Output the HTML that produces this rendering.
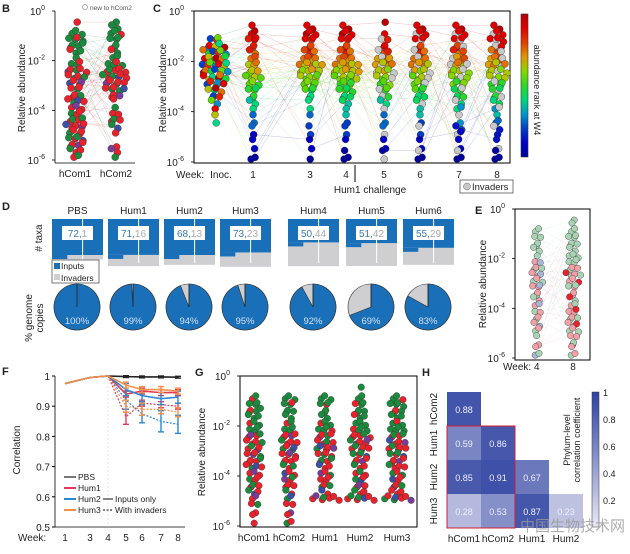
<!DOCTYPE html>
<html><head><meta charset="utf-8">
<style>
body{margin:0;background:#fff;}
svg{display:block;font-family:"Liberation Sans","Noto Sans CJK SC",sans-serif;}
</style></head>
<body>
<svg id="fig" width="630" height="554" viewBox="0 0 630 554" xmlns="http://www.w3.org/2000/svg">
<rect width="630" height="554" fill="#fff"/>
</svg>
<script>
// ---------------- DATA ----------------
// Swarm histograms: dot counts per 0.25-log10 bin from 10^0 down to 10^-6 (24 bins)
const bHcom1 = [0,1,0,3,4,4,3,1,3,5,4,4,3,3,4,3,3,4,5,4,4,4,3,2];
const bHcom2 = [0,1,2,3,3,2,2,2,4,5,6,5,5,3,1,1,2,3,2,1,0,1,2,1];
const cCols = [
 [0,0,0,0,3,5,6,6,7,7,6,5,4,3,2,1,1,1,0,0,0,0,0,0],
 [0,0,1,2,3,2,2,2,3,3,4,3,3,2,2,1,1,1,1,1,1,1,0,2],
 [0,0,2,3,3,2,3,4,6,6,5,4,3,2,1,1,1,0,1,1,1,1,0,1],
 [0,0,2,3,3,2,3,4,6,7,6,4,4,3,2,1,1,1,1,1,1,0,1,2],
 [0,1,0,1,2,2,3,4,5,5,4,3,3,3,2,1,1,1,1,1,1,1,1,1],
 [0,0,2,3,3,2,3,4,5,5,4,4,3,3,2,1,1,1,1,1,1,1,1,2],
 [0,0,2,3,3,3,3,4,5,5,4,4,3,3,2,2,1,1,2,2,1,1,1,2],
 [0,0,2,3,4,3,3,4,5,5,4,4,3,3,2,2,1,2,2,1,1,1,1,2]
];
const cWeeks = ["Inoc.","1","3","4","5","6","7","8"];
const eWeek4 = [0,0,0,2,2,2,2,1,2,3,3,3,3,2,2,2,2,2,2,2,1,1,1,2];
const eWeek8 = [0,1,1,2,3,3,2,3,3,3,4,3,3,2,2,2,3,3,3,3,2,2,1,2];
const gCols = [
 [0,0,0,2,3,4,3,3,3,4,4,4,4,4,4,3,3,3,3,2,2,1,1,1],
 [0,0,0,3,3,3,2,2,3,4,4,4,4,4,3,3,3,3,2,2,2,1,1,2],
 [0,0,0,3,3,2,2,3,4,4,4,5,4,4,3,3,3,3,2,7,0,0,0,0],
 [0,1,0,2,3,3,3,3,4,5,5,5,4,4,3,3,3,3,3,7,0,0,0,0],
 [0,0,0,3,4,3,3,3,4,4,4,5,4,4,4,3,3,3,3,7,0,0,0,0]
];
const gLabels = ["hCom1","hCom2","Hum1","Hum2","Hum3"];
const dGroups = ["PBS","Hum1","Hum2","Hum3","Hum4","Hum5","Hum6"];
const dInputs = [72,71,68,73,50,51,55];
const dInvaders = [1,16,13,23,44,42,29];
const dPct = [100,99,94,95,92,69,83];
const fWeeks = [1,3,4,5,6,7,8];
const fPBS = [0.975,0.995,1,0.998,0.997,0.997,0.996];
const fHum1 = [0.975,0.995,1,0.94,0.95,0.945,0.945];
const fHum2 = [0.975,0.995,1,0.955,0.935,0.925,0.93];
const fHum3 = [0.975,0.995,1,0.97,0.955,0.955,0.95];
const fHum1d = [null,null,1,0.865,0.91,0.905,0.9];
const fHum2d = [null,null,1,0.92,0.875,0.85,0.84];
const fHum3d = [null,null,1,0.9,0.89,0.89,0.88];
const hLabels = ["hCom1","hCom2","Hum1","Hum2","Hum3"];
const hVals = [[0.88],[0.59,0.86],[0.85,0.91,0.67],[0.28,0.53,0.87,0.23]];

// ---------------- HELPERS ----------------
const NS="http://www.w3.org/2000/svg";
const svg=document.getElementById('fig');
function mk(tag,attrs,parent,text){const e=document.createElementNS(NS,tag);for(const k in attrs)e.setAttribute(k,attrs[k]);if(text!==undefined)e.textContent=text;(parent||svg).appendChild(e);return e;}
function txt(x,y,s,size,name,opts){const o=Object.assign({x:x,y:y,'font-size':size,fill:'#222'},opts||{});const t=mk('text',o,svg,s);return t;}
function logScale(top,bot){return v=>top+(-v)/6*(bot-top);}
function jet(t){t=Math.max(0,Math.min(1,t));const r=Math.max(0,Math.min(1,1.5-Math.abs(4*t-3.3))),g=Math.max(0,Math.min(1,1.5-Math.abs(4*t-2))),b=Math.max(0,Math.min(1,1.5-Math.abs(4*t-0.7)));return `rgb(${Math.round(r*225)},${Math.round(g*215)},${Math.round(b*200)})`;}
const jit=[0,0.6,-0.5,0.3,-0.2,0.8,-0.7,0.1];
function swarm(counts,cx,ys,r,colorFn,name,step){
 const g=mk('g',{});  
 const pts=[];let idx=0;
 counts.forEach((n,bi)=>{const lv=-(bi+0.5)*0.25;
  for(let k=0;k<n;k++){const off=(k-(n-1)/2)*step+jit[(bi+k)%8]*2;const yy=ys(lv)+jit[(k*3+bi)%8]*3;
   const col=colorFn(lv,idx);
   const c=mk('circle',{cx:cx+off,cy:yy,r:r,fill:col,stroke:'#333','stroke-width':0.4},g);
   
   
   pts.push([cx+off,yy,col]);idx++;}});
 return pts;}
function links(a,b,op){const lg=mk('g',{});const n=Math.min(a.length,b.length);for(let i=0;i<n;i++){const j=(i*7)%b.length;mk('line',{x1:a[i][0],y1:a[i][1],x2:b[j][0],y2:b[j][1],stroke:a[i][2],'stroke-width':0.5,opacity:op},lg);}svg.insertBefore(lg,svg.children[1]);}
function yLogAxis(x,top,bot,name){const ys=logScale(top,bot);[0,-2,-4,-6].forEach(p=>{mk('line',{x1:x-3,x2:x,y1:ys(p),y2:ys(p),stroke:'#000','stroke-width':0.8});const t=txt(x-10,ys(p)+4,'10',10,name+'-tick',{'text-anchor':'end'});mk('tspan',{dy:-5,'font-size':7},t,String(p));});return ys;}
const phylum=['#e8212b','#e8212b','#e8212b','#1a8a3c','#e8212b','#1a8a3c','#e8212b','#e8212b','#3a50a8','#1a8a3c','#e8212b','#7a3c9a'];
function phylumColor(lv,i){if(lv>-2.2&&i%3!==0)return '#1a8a3c';return phylum[(i*5)%phylum.length];}

// ---------------- PANEL B ----------------
txt(2,12,'B',11,'panel-b-label',{'font-weight':'bold'});
mk('circle',{cx:85,cy:7,r:2.5,fill:'none',stroke:'#999','stroke-width':0.8});
txt(90,10,'new to hCom2',6.5,'legend-new-to-hcom2',{fill:'#555'});
const ysB=yLogAxis(55,11,160,'b-y');
mk('line',{x1:55,x2:55,y1:11,y2:163,stroke:'#000','stroke-width':0.8});
mk('line',{x1:55,x2:135,y1:163,y2:163,stroke:'#000','stroke-width':0.8});
txt(25,88,'Relative abundance',10,'b-y-axis-title',{'text-anchor':'middle',transform:'rotate(-90 25 88)'});
const pb1=swarm(bHcom1,76,ysB,3.5,phylumColor,'b-hcom1-swarm',4.5);
const pb2=swarm(bHcom2,115,ysB,3.5,(lv,i)=>phylumColor(lv,i+1),'b-hcom2-swarm',4.5);
links(pb1,pb2,0.25);
txt(75,177,'hCom1',10,'b-x-label-hcom1',{'text-anchor':'middle'});
txt(116,177,'hCom2',10,'b-x-label-hcom2',{'text-anchor':'middle'});

// ---------------- PANEL C ----------------
txt(153,12,'C',11,'panel-c-label',{'font-weight':'bold'});
mk('rect',{x:194,y:11,width:316,height:152,fill:'none',stroke:'#000','stroke-width':1});
const ysC=yLogAxis(194,11,162,'c-y');
txt(166,88,'Relative abundance',10,'c-y-axis-title',{'text-anchor':'middle',transform:'rotate(-90 166 88)'});
const cX=[215,253,310,346,384,420,459,497];
let prev=null;
cCols.forEach((col,ci)=>{
 const p=swarm(col,cX[ci],ysC,3.5,(lv,i)=>{ if(ci>=4&&(i%4===2))return '#c8c8c8'; if(ci===0)return jet(0.2+((i*7)%10)/11); return jet(1+(lv+0.6)/5+((i%3)-1)*0.05);},'c-week-'+cWeeks[ci]+'-swarm',4.2);
 if(prev)links(prev,p,0.25);prev=p;
 txt(cX[ci]+(ci===0?6:0),178,cWeeks[ci],10,'c-x-label-'+cWeeks[ci],{'text-anchor':'middle'});
});
txt(176,178,'Week:',10,'c-week-label');
mk('line',{x1:355,x2:355,y1:165,y2:182,stroke:'#000','stroke-width':1});
txt(370,193,'Hum1 challenge',10,'hum1-challenge-label',{'text-anchor':'middle'});
const inv=mk('rect',{x:460,y:180,width:53,height:13,fill:'#fff',stroke:'#555','stroke-width':0.8});
mk('circle',{cx:467,cy:186.5,r:3.5,fill:'#c8c8c8',stroke:'#444','stroke-width':0.4});
txt(472,190,'Invaders',9.5,'invaders-legend-text');
const defs=mk('defs',{});
const lg=mk('linearGradient',{id:'jetg',x1:0,y1:1,x2:0,y2:0},defs);
for(let i=0;i<=10;i++)mk('stop',{offset:i/10,'stop-color':jet(i/10)},lg);
const cb=mk('rect',{x:521,y:14,width:7,height:143,fill:'url(#jetg)',stroke:'#333','stroke-width':0.6});
txt(534,90,'abundance rank at W4',9,'c-colorbar-title',{'text-anchor':'middle',transform:'rotate(90 534 90)'});

// ---------------- PANEL D ----------------
txt(2,210,'D',11,'panel-d-label',{'font-weight':'bold'});
const dX=[52,108,164,220,288,346,403];
txt(42,238,'# taxa',10,'d-taxa-axis-title',{'text-anchor':'middle',transform:'rotate(-90 42 238)'});
txt(32,318,'% genome',10,'d-pct-axis-title',{'text-anchor':'middle',transform:'rotate(-90 32 318)'});
txt(43,318,'copies',10,'d-pct-axis-title2',{'text-anchor':'middle',transform:'rotate(-90 43 318)'});
dGroups.forEach((g,i)=>{
 const x=dX[i],w=51,top=219;
 txt(x+w/2,214,g,10,'d-group-label-'+g,{'text-anchor':'middle'});
 const frac=dInputs[i]/(dInputs[i]+dInvaders[i]);
 const blueH=Math.min(36,44*frac);const grayH=dInvaders[i]*0.45+4;
 const gr=mk('rect',{x:x,y:top+blueH,width:w,height:grayH,fill:'#cfcfd1'});
 const bl=mk('rect',{x:x,y:top,width:w,height:blueH,fill:'#1a70b8'});
 mk('rect',{x:x,y:top+blueH,width:w*0.3,height:4,fill:'#1a70b8'});
 mk('line',{x1:x+w*0.6,x2:x+w*0.6,y1:top,y2:top+44,stroke:'#fff','stroke-width':1});
 mk('rect',{x:x+10,y:top+7,width:31,height:14,fill:'#fff'});
 const t=txt(x+25.5,top+18,'',10,'d-count-label-'+g,{'text-anchor':'middle'});
 mk('tspan',{fill:'#3a78b8'},t,dInputs[i]+',');mk('tspan',{fill:'#aaa'},t,String(dInvaders[i]));
 const cx=x+25,cy=307,r=23;
 const pie=mk('circle',{cx:cx,cy:cy,r:r,fill:'#cfcfd1',stroke:'#333','stroke-width':0.6});
 const a=dPct[i]/100*2*Math.PI;
 if(dPct[i]>=100){mk('circle',{cx:cx,cy:cy,r:r,fill:'#1a70b8',stroke:'#333','stroke-width':0.6});}
 else{const ex=cx+r*Math.sin(a),ey=cy-r*Math.cos(a);mk('path',{d:`M${cx},${cy} L${cx},${cy-r} A${r},${r} 0 ${a>Math.PI?1:0} 1 ${ex},${ey} Z`,fill:'#1a70b8',stroke:'#333','stroke-width':0.6});}
 mk('line',{x1:cx,y1:cy,x2:cx,y2:cy-r,stroke:'#222','stroke-width':0.8});
 txt(cx,cy+17,dPct[i]+'%',9.5,'d-pct-label-'+g,{'text-anchor':'middle',fill:'#cfe0f2'});
});
const lgd=mk('rect',{x:52,y:260,width:47,height:23,fill:'#fff',stroke:'#555','stroke-width':0.8});
mk('rect',{x:54,y:263,width:6,height:6,fill:'#1a70b8'});txt(61,269,'Inputs',8.5,'d-legend-inputs');
mk('rect',{x:54,y:274,width:6,height:6,fill:'#cfcfd1'});txt(61,281,'Invaders',8.5,'d-legend-invaders');

// ---------------- PANEL E ----------------
txt(475,214,'E',11,'panel-e-label',{'font-weight':'bold'});
mk('rect',{x:515,y:209,width:75,height:151,fill:'none',stroke:'#000','stroke-width':1});
const ysE=yLogAxis(515,209,358,'e-y');
txt(486,284,'Relative abundance',10,'e-y-axis-title',{'text-anchor':'middle',transform:'rotate(-90 486 284)'});
const light=['#f2a0a8','#a8d4b4','#f2a0a8','#f2a0a8','#a8b4d8','#a8d4b4'];
const pe1=swarm(eWeek4,537,ysE,3.2,(lv,i)=>lv>-2?'#a8d4b4':light[i%light.length],'e-week4-swarm',4);
const pe2=swarm(eWeek8,573,ysE,3.2,(lv,i)=>{if(i%6===3&&lv<-2.5)return ['#e8212b','#1a8a3c','#3a50a8'][i%3];return lv>-2.2?'#a8d4b4':light[(i+1)%light.length];},'e-week8-swarm',4);
links(pe1,pe2,0.25);
txt(503,370,'Week: 4',10,'e-x-label-4');txt(573,370,'8',10,'e-x-label-8',{'text-anchor':'middle'});

// ---------------- PANEL F ----------------
txt(2,375,'F',11,'panel-f-label',{'font-weight':'bold'});
const fx=w=>({1:65,3:90,4:108,5:126,6:142,7:161,8:178})[w];
const fy=v=>376+(1-v)*302;
mk('line',{x1:55,x2:55,y1:376,y2:527,stroke:'#000','stroke-width':0.8});
mk('line',{x1:55,x2:185,y1:527,y2:527,stroke:'#000','stroke-width':0.8});
[1,0.9,0.8,0.7,0.6,0.5].forEach(v=>{mk('line',{x1:52,x2:55,y1:fy(v),y2:fy(v),stroke:'#000'});txt(50,fy(v)+4,String(v),10,'f-y-tick',{'text-anchor':'end'});});
mk('line',{x1:108,x2:108,y1:378,y2:527,stroke:'#ccc','stroke-width':0.6,'stroke-dasharray':'2,2'});
txt(20,450,'Correlation',10,'f-y-axis-title',{'text-anchor':'middle',transform:'rotate(-90 20 450)'});
txt(18,541,'Week:',10,'f-week-label');
fWeeks.forEach(w=>txt(fx(w),541,String(w),10,'f-x-tick',{'text-anchor':'middle'}));
function fline(vals,color,dash,name,errs){
 const pts=[];vals.forEach((v,i)=>{if(v!==null)pts.push([fx(fWeeks[i]),fy(v)]);});
 const p=mk('polyline',{points:pts.map(p=>p.join(',')).join(' '),fill:'none',stroke:color,'stroke-width':dash?1.2:1.6,'stroke-dasharray':dash?'2,1.5':'none'});
 
 if(errs)vals.forEach((v,i)=>{if(v===null||i<3)return;const x=fx(fWeeks[i]),e=errs[i-3];mk('line',{x1:x,x2:x,y1:fy(v+e),y2:fy(v-e),stroke:color,'stroke-width':1.4});mk('line',{x1:x-3,x2:x+3,y1:fy(v+e),y2:fy(v+e),stroke:color,'stroke-width':1.4});mk('line',{x1:x-3,x2:x+3,y1:fy(v-e),y2:fy(v-e),stroke:color,'stroke-width':1.4});});
}
fline(fHum1d,'#e33a5a',true,'f-hum1-invaders',[0.025,0.01,0.01,0.01]);
fline(fHum2d,'#2a88d0',true,'f-hum2-invaders',[0.03,0.03,0.035,0.03]);
fline(fHum3d,'#f2904a',true,'f-hum3-invaders',[0.02,0.02,0.015,0.015]);
fline(fPBS,'#222',false,'f-pbs-line',[0.003,0.003,0.003,0.003]);
fline(fHum1,'#e33a5a',false,'f-hum1-line',[0.01,0.01,0.01,0.01]);
fline(fHum2,'#2a88d0',false,'f-hum2-line',[0.02,0.02,0.02,0.02]);
fline(fHum3,'#f2904a',false,'f-hum3-line',[0.01,0.01,0.01,0.01]);
[['PBS','#777',0],['Hum1','#e33a5a',1],['Hum2','#2a88d0',2],['Hum3','#f2904a',3]].forEach(([n,c,i])=>{const y=513-(3-i)*11;mk('line',{x1:64,x2:76,y1:y-3,y2:y-3,stroke:c,'stroke-width':2});txt(78,y,n,8.5,'f-legend-'+n);});
mk('line',{x1:103,x2:113,y1:499,y2:499,stroke:'#555','stroke-width':1.4});txt(115,502,'Inputs only',8.5,'f-legend-inputs-only');
mk('line',{x1:103,x2:113,y1:510,y2:510,stroke:'#555','stroke-width':1.4,'stroke-dasharray':'2,1.5'});txt(115,513,'With invaders',8.5,'f-legend-with-invaders');

// ---------------- PANEL G ----------------
txt(195,376,'G',11,'panel-g-label',{'font-weight':'bold'});
mk('rect',{x:240,y:376,width:177,height:151,fill:'none',stroke:'#000','stroke-width':1});
const ysG=yLogAxis(240,376,526,'g-y');
txt(205,452,'Relative abundance',10,'g-y-axis-title',{'text-anchor':'middle',transform:'rotate(-90 205 452)'});
const gX=[254,289,325,360,397];
gCols.forEach((col,ci)=>{swarm(col,gX[ci],ysG,3.3,(lv,i)=>phylumColor(lv,i+ci),'g-'+gLabels[ci]+'-swarm',4.3);
 txt(gX[ci],541,gLabels[ci],10,'g-x-label-'+gLabels[ci],{'text-anchor':'middle'});});

// ---------------- PANEL H ----------------
txt(422,376,'H',11,'panel-h-label',{'font-weight':'bold'});
const hx0=447,hy0=392,cw=34,chh=34;
const hcol=v=>{const t=Math.max(0,Math.min(1,v));const a=[232,232,245],b=[45,65,160];return `rgb(${a.map((c,k)=>Math.round(c+(b[k]-c)*t)).join(',')})`;};
hVals.forEach((row,ri)=>row.forEach((v,ci)=>{
 const r=mk('rect',{x:hx0+ci*cw,y:hy0+ri*chh,width:cw,height:chh,fill:hcol(v)});
 txt(hx0+ci*cw+cw/2,hy0+ri*chh+chh/2+4,v.toFixed(2),9,'h-cell-value',{'text-anchor':'middle',fill:'#eef'});
}));
mk('rect',{x:hx0,y:hy0+chh,width:2*cw,height:3*chh,fill:'none',stroke:'#d02030','stroke-width':1});
hLabels.slice(1).forEach((l,i)=>txt(437,hy0+i*chh+chh/2,l,10,'h-row-label-'+l,{'text-anchor':'middle',transform:`rotate(-90 437 ${hy0+i*chh+chh/2})`}));
hLabels.slice(0,4).forEach((l,i)=>txt(hx0+i*cw+cw/2,542,l,10,'h-col-label-'+l,{'text-anchor':'middle'}));
const lg2=mk('linearGradient',{id:'hg',x1:0,y1:1,x2:0,y2:0},defs);
mk('stop',{offset:0,'stop-color':hcol(0)},lg2);mk('stop',{offset:1,'stop-color':hcol(1)},lg2);
const hcb=mk('rect',{x:592,y:392,width:7,height:135,fill:'url(#hg)',stroke:'#333','stroke-width':0.5});
[1,0.8,0.6,0.4,0.2].forEach(v=>txt(603,392+(1-v)*135+4,String(v),9,'h-colorbar-tick'));
txt(570,440,'Phylum-level',9,'h-colorbar-title',{'text-anchor':'middle',transform:'rotate(-90 570 440)'});
txt(580,440,'correlation coefficient',9,'h-colorbar-title2',{'text-anchor':'middle',transform:'rotate(-90 580 440)'});

txt(520,531,'中国生物技术网',15,'watermark',{fill:'#999',opacity:0.8});
</script>
</body></html>
